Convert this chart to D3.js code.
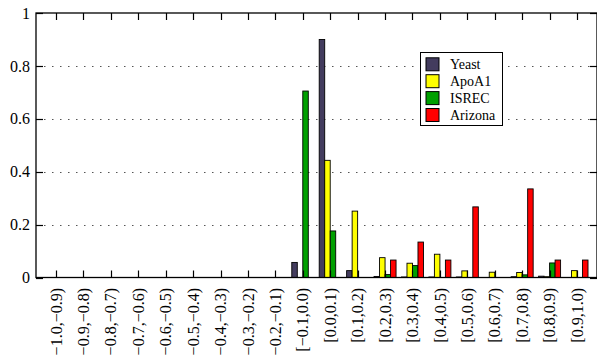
<!DOCTYPE html>
<html>
<head>
<meta charset="utf-8">
<script src="https://cdn.jsdelivr.net/npm/d3@7"></script>
<style>
  html, body { margin: 0; padding: 0; background: #fff; }
  svg { display: block; }
</style>
</head>
<body>
<svg id="chart" width="597" height="355" font-family="'Liberation Serif', 'Times New Roman', Times, serif"></svg>
<script>
// Histogram bins (score intervals)
const bins = [
  "[\u22121.0,\u22120.9)", "[\u22120.9,\u22120.8)", "[\u22120.8,\u22120.7)", "[\u22120.7,\u22120.6)",
  "[\u22120.6,\u22120.5)", "[\u22120.5,\u22120.4)", "[\u22120.4,\u22120.3)", "[\u22120.3,\u22120.2)",
  "[\u22120.2,\u22120.1)", "[\u22120.1,0.0)", "[0.0,0.1)", "[0.1,0.2)", "[0.2,0.3)", "[0.3,0.4)",
  "[0.4,0.5)", "[0.5,0.6)", "[0.6,0.7)", "[0.7,0.8)", "[0.8,0.9)", "[0.9,1.0)"
];

const seriesNames = ["Yeast", "ApoA1", "ISREC", "Arizona"];
const seriesColors = ["#433c5e", "#ffff00", "#00a000", "#ff0000"];

// Relative frequency of each dataset per bin
const yeast   = [0, 0, 0, 0, 0, 0, 0, 0, 0, 0.057, 0.900, 0.026, 0.004, 0.002, 0.002, 0.002, 0, 0.003, 0.005, 0];
const apoA1   = [0, 0, 0, 0, 0, 0, 0, 0, 0, 0,     0.443, 0.251, 0.075, 0.054, 0.088, 0.025, 0.020, 0.019, 0.003, 0.026];
const isrec   = [0, 0, 0, 0, 0, 0, 0, 0, 0, 0.705, 0.176, 0,     0.011, 0.045, 0,     0,     0,     0.010, 0.055, 0];
const arizona = [0, 0, 0, 0, 0, 0, 0, 0, 0, 0,     0,     0,     0.066, 0.134, 0.066, 0.267, 0,     0.335, 0.066, 0.066];

const seriesValues = [yeast, apoA1, isrec, arizona];
const yTicks = [0, 0.2, 0.4, 0.6, 0.8, 1];

const svg = d3.select("#chart");
const plotL = 36, plotR = 597, plotT = 13, plotB = 277.5;

const x = d3.scaleBand().domain(bins).range([plotL, plotR]).paddingInner(0).paddingOuter(0.229);
const xs = d3.scaleBand().domain(seriesNames).range([-11, 11]).padding(0);
const y = d3.scaleLinear().domain([0, 1]).range([plotB, plotT]);

// Dotted grid lines
svg.append("g")
  .selectAll("line")
  .data(yTicks.filter(t => t > 0 && t < 1))
  .join("line")
  .attr("x1", plotL).attr("x2", plotR)
  .attr("y1", d => Math.round(y(d)) + 0.5).attr("y2", d => Math.round(y(d)) + 0.5)
  .attr("stroke", "#555").attr("stroke-width", 1)
  .attr("stroke-dasharray", "1.5,6.5");

// Bars
const flat = [];
bins.forEach((b, i) => {
  seriesNames.forEach((s, j) => {
    const v = seriesValues[j][i];
    if (v > 0) flat.push({ bin: b, series: s, value: v, color: seriesColors[j] });
  });
});
svg.append("g")
  .selectAll("rect")
  .data(flat)
  .join("rect")
  .attr("x", d => x(d.bin) + x.bandwidth() / 2 + xs(d.series))
  .attr("y", d => y(d.value))
  .attr("width", xs.bandwidth())
  .attr("height", d => plotB - y(d.value))
  .attr("fill", d => d.color)
  .attr("stroke", "#000")
  .attr("stroke-width", 0.9);

// Frame
svg.append("rect")
  .attr("x", plotL).attr("y", plotT)
  .attr("width", plotR - plotL).attr("height", plotB - plotT)
  .attr("fill", "none").attr("stroke", "#000").attr("stroke-width", 1.3);

// Ticks along all four sides, pointing inward
const tickLen = 7;
const tg = svg.append("g").attr("stroke", "#000").attr("stroke-width", 1.2);
bins.forEach(b => {
  const cx = Math.round(x(b) + x.bandwidth() / 2) + 0.5;
  tg.append("line").attr("x1", cx).attr("x2", cx).attr("y1", plotT).attr("y2", plotT + tickLen);
  tg.append("line").attr("x1", cx).attr("x2", cx).attr("y1", plotB).attr("y2", plotB - tickLen);
});
yTicks.forEach(t => {
  const cy = Math.round(y(t)) + 0.5;
  tg.append("line").attr("x1", plotL).attr("x2", plotL + tickLen).attr("y1", cy).attr("y2", cy);
  tg.append("line").attr("x1", plotR).attr("x2", plotR - tickLen).attr("y1", cy).attr("y2", cy);
});

// Y tick labels
svg.append("g")
  .selectAll("text")
  .data(yTicks)
  .join("text")
  .attr("x", 30)
  .attr("y", d => y(d))
  .attr("dy", "0.35em")
  .attr("text-anchor", "end")
  .attr("font-size", 16)
  .text(d => d3.format("")(d));

// X tick labels, rotated
svg.append("g")
  .selectAll("text")
  .data(bins)
  .join("text")
  .attr("transform", d => `translate(${x(d) + x.bandwidth() / 2},288) rotate(-90)`)
  .attr("dy", "0.35em")
  .attr("text-anchor", "end")
  .attr("font-size", 16)
  .text(d => d);

// Legend
const lg = svg.append("g");
lg.append("rect")
  .attr("x", 420.5).attr("y", 52.5).attr("width", 82).attr("height", 73)
  .attr("fill", "#fff").attr("stroke", "#000").attr("stroke-width", 1);
seriesNames.forEach((s, j) => {
  const cy = 64.3 + j * 16.9;
  lg.append("rect")
    .attr("x", 426).attr("y", cy - 6.5).attr("width", 13).attr("height", 13)
    .attr("fill", seriesColors[j]).attr("stroke", "#000").attr("stroke-width", 1);
  lg.append("text")
    .attr("x", 450).attr("y", cy).attr("dy", "0.35em")
    .attr("font-size", 14)
    .text(s);
});
</script>
</body>
</html>
